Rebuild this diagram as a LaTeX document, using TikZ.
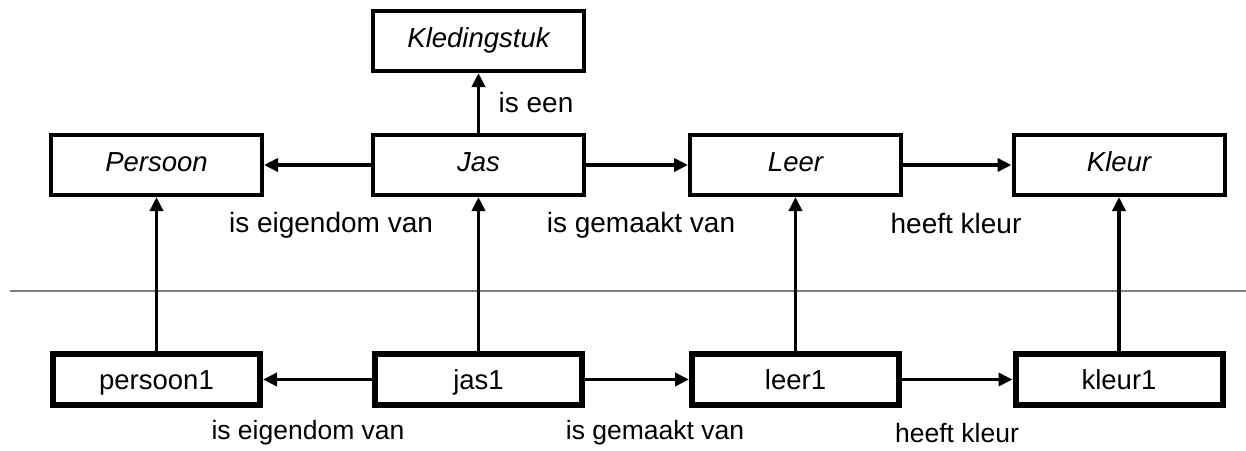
\documentclass[tikz,border=0pt]{standalone}
\usepackage{fontspec}
\setmainfont{Liberation Sans}
\usetikzlibrary{arrows.meta}
\begin{document}
\begin{tikzpicture}[x=1pt,y=-1pt,
  concept/.style={draw, line width=4pt, minimum width=211pt, minimum height=60pt,
    inner sep=0pt, font=\fontsize{27.5}{30}\selectfont\itshape,
    text height=19.7pt, text depth=5.8pt},
  instance/.style={draw, line width=6pt, minimum width=207pt, minimum height=51pt,
    inner sep=0pt, font=\fontsize{27.5}{30}\selectfont,
    text height=19.7pt, text depth=0pt},
  rel/.style={line width=3.5pt, -{Triangle[length=14pt,width=13pt]}},
  toplbl/.style={inner sep=0pt, font=\fontsize{28}{30}\selectfont},
  botlbl/.style={inner sep=0pt, font=\fontsize{26.5}{30}\selectfont},
  divider/.style={line width=1.6pt, color=black!50},
]
\useasboundingbox (0,0) rectangle (1246,450);

% class level
\node[concept] (kleding) at (478.5,41)  {Kledingstuk};
\node[concept] (persoon) at (156.5,165) {Persoon};
\node[concept] (jas)     at (478.5,165) {Jas};
\node[concept] (leer)    at (795.5,165) {Leer};
\node[concept] (kleur)   at (1119,165)  {Kleur};

% instance level
\node[instance] (persoon1) at (156.5,379.5) {persoon1};
\node[instance] (jas1)     at (478.5,379.5) {jas1};
\node[instance] (leer1)    at (795.5,379.5) {leer1};
\node[instance] (kleur1)   at (1119,379.5)  {kleur1};

% separator between the two levels
\coordinate (sepL) at (10,291);
\coordinate (sepR) at (1246,291);
\draw[divider] (sepL) -- (sepR);

% relations between classes
\draw[rel] (jas) -- (kleding);
\draw[rel] (jas) -- (persoon);
\draw[rel] (jas) -- (leer);
\draw[rel] (leer) -- (kleur);

% instances to their classes
\draw[rel] (persoon1) -- (persoon);
\draw[rel] (jas1) -- (jas);
\draw[rel] (leer1) -- (leer);
\draw[rel] (kleur1) -- (kleur);

% relations between instances
\draw[rel] (jas1) -- (persoon1);
\draw[rel] (jas1) -- (leer1);
\draw[rel] (leer1) -- (kleur1);

% labels
\node[toplbl] (lIsEen)  at (536,102) {is een};
\node[toplbl] (lEig)    at (331,225) {is eigendom van};
\node[toplbl] (lGem)    at (641,225) {is gemaakt van};
\node[toplbl] (lKleur)  at (956,223) {heeft kleur};
\node[botlbl] (lEig1)   at (308,433) {is eigendom van};
\node[botlbl] (lGem1)   at (655,433) {is gemaakt van};
\node[botlbl] (lKleur1) at (957,433) {heeft kleur};
\end{tikzpicture}
\end{document}
